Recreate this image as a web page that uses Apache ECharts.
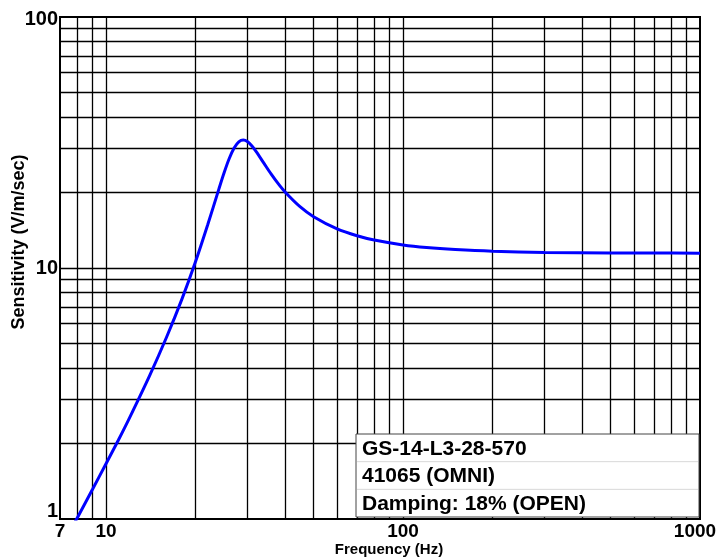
<!DOCTYPE html>
<html>
<head>
<meta charset="utf-8">
<script src="https://cdn.jsdelivr.net/npm/echarts@6/dist/echarts.min.js"></script>
<style>
html,body{margin:0;padding:0;background:#fff;}
#chart{width:717px;height:559px;}
</style>
</head>
<body>
<div id="chart"></div>
<script>
// Frequency (Hz) and sensitivity (V/m/sec)
const freq = [7.5, 8, 9, 10, 11, 12, 14, 16, 18, 20, 22, 24, 25, 26, 27, 28, 29, 30, 31, 32, 34, 36, 38, 40, 45, 50, 60, 70, 80, 100, 120, 150, 200, 300, 500, 700, 1000];
const sens = [0.88, 1.01, 1.31, 1.66, 2.06, 2.53, 3.71, 5.31, 7.50, 10.56, 14.86, 20.67, 24.02, 27.31, 30.06, 31.81, 32.33, 31.82, 30.64, 29.16, 26.17, 23.65, 21.67, 20.13, 17.55, 16.01, 14.31, 13.44, 12.92, 12.35, 12.06, 11.84, 11.66, 11.54, 11.48, 11.47, 11.46];

// Grid line positions (log decades)
const xGridValues = [8, 9, 10, 20, 30, 40, 50, 60, 70, 80, 90, 100, 200, 300, 400, 500, 600, 700, 800, 900];
const yGridValues = [2, 3, 4, 5, 6, 7, 8, 9, 10, 20, 30, 40, 50, 60, 70, 80, 90];

const xTickLabels = [7, 10, 100, 1000];
const yTickLabels = [1, 10, 100];

const infoLines = ['GS-14-L3-28-570', '41065 (OMNI)', 'Damping: 18% (OPEN)'];

const FONT = '"Liberation Sans", Arial, sans-serif';

const chart = echarts.init(document.getElementById('chart'), null, {renderer: 'canvas'});

const curve = freq.map((f, i) => [f, sens[i]]);

const gridLineData = []
  .concat(xGridValues.map(v => ({xAxis: v})))
  .concat(yGridValues.map(v => ({yAxis: v})));

const boxLeft = 356, boxTop = 434, boxW = 343, boxH = 83, rowH = boxH / 3;

const graphics = [{
  type: 'rect',
  shape: {x: boxLeft, y: boxTop, width: boxW, height: boxH},
  style: {fill: '#fff', stroke: '#444', lineWidth: 1},
  z: 100
}];
for (let i = 1; i < infoLines.length; i++) {
  graphics.push({
    type: 'line',
    shape: {x1: boxLeft + 1, y1: boxTop + rowH * i, x2: boxLeft + boxW - 1, y2: boxTop + rowH * i},
    style: {stroke: '#d8d8d8', lineWidth: 1},
    z: 101
  });
}
infoLines.forEach((t, i) => {
  graphics.push({
    type: 'text',
    x: boxLeft + 6,
    y: boxTop + rowH * i + rowH / 2 + 1,
    style: {text: t, fill: '#000', font: 'bold 21px ' + FONT, textVerticalAlign: 'middle', verticalAlign: 'middle'},
    z: 102
  });
});

const option = {
  backgroundColor: '#fff',
  animation: false,
  grid: {left: 60, right: 17, top: 17, bottom: 40, show: true, borderColor: '#000', borderWidth: 2, backgroundColor: 'transparent', containLabel: false, outerBoundsMode: 'none'},
  xAxis: {
    type: 'log',
    logBase: 10,
    min: 7,
    max: 1000,
    name: 'Frequency (Hz)',
    nameLocation: 'middle',
    nameGap: 23,
    nameMoveOverlap: false,
    nameTextStyle: {fontFamily: FONT, fontWeight: 'bold', fontSize: 15, color: '#000', padding: [0, 0, 0, 18]},
    axisLine: {show: true, lineStyle: {color: '#000', width: 2}},
    axisTick: {show: false},
    splitLine: {show: false},
    minorTick: {show: false},
    axisLabel: {
      show: true,
      showMinLabel: true,
      showMaxLabel: true,
      hideOverlap: false,
      margin: 3,
      color: '#000',
      fontFamily: FONT,
      fontWeight: 'bold',
      fontSize: 19,
      formatter: function (v) {
        const r = Math.round(v);
        if (xTickLabels.indexOf(r) < 0) return '';
        if (r === 1000) return '{l|' + r + '}';
        return '{n|' + r + '}';
      },
      rich: {
        n: {fontFamily: FONT, fontWeight: 'bold', fontSize: 19, color: '#000'},
        l: {fontFamily: FONT, fontWeight: 'bold', fontSize: 19, color: '#000', padding: [0, 10, 0, 0]}
      }
    }
  },
  yAxis: {
    type: 'log',
    logBase: 10,
    min: 1,
    max: 100,
    name: 'Sensitivity (V/m/sec)',
    nameLocation: 'middle',
    nameGap: 32,
    nameRotate: 90,
    nameMoveOverlap: false,
    nameTextStyle: {fontFamily: FONT, fontWeight: 'bold', fontSize: 18, color: '#000', padding: [0, 0, 0, 52]},
    axisLine: {show: true, lineStyle: {color: '#000', width: 2}},
    axisTick: {show: false},
    splitLine: {show: false},
    minorTick: {show: false},
    axisLabel: {
      show: true,
      showMinLabel: true,
      showMaxLabel: true,
      hideOverlap: false,
      margin: 2,
      color: '#000',
      fontFamily: FONT,
      fontWeight: 'bold',
      fontSize: 20,
      formatter: function (v) {
        const r = Math.round(v);
        if (yTickLabels.indexOf(r) < 0) return '';
        if (r === 1) return '{lo|' + r + '}';
        if (r === 100) return '{hi|' + r + '}';
        return '{n|' + r + '}';
      },
      rich: {
        n: {fontFamily: FONT, fontWeight: 'bold', fontSize: 20, color: '#000'},
        lo: {fontFamily: FONT, fontWeight: 'bold', fontSize: 20, color: '#000', padding: [0, 0, 16, 0]},
        hi: {fontFamily: FONT, fontWeight: 'bold', fontSize: 20, color: '#000', padding: [5, 0, 0, 0]}
      }
    }
  },
  series: [
    {
      name: 'grid',
      type: 'line',
      data: [],
      silent: true,
      z: 1,
      markLine: {
        silent: true,
        symbol: 'none',
        animation: false,
        label: {show: false},
        lineStyle: {color: '#000', width: 1.3, type: 'solid'},
        emphasis: {disabled: true},
        data: gridLineData
      }
    },
    {
      name: 'Sensitivity',
      type: 'line',
      data: curve,
      showSymbol: false,
      smooth: 0.3,
      clip: true,
      z: 5,
      lineStyle: {color: '#0000ff', width: 3},
      itemStyle: {color: '#0000ff'}
    }
  ],
  graphic: graphics
};

chart.setOption(option);
</script>
</body>
</html>
